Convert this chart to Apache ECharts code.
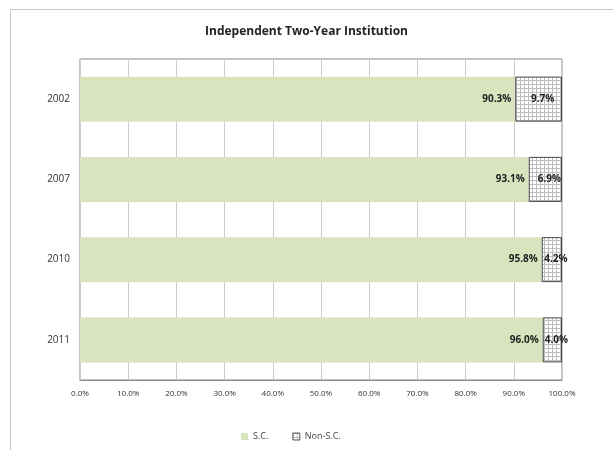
<!DOCTYPE html>
<html>
<head>
<meta charset="utf-8">
<script src="https://cdn.jsdelivr.net/npm/echarts@6/dist/echarts.min.js"></script>
<style>
  html, body { margin: 0; padding: 0; background: #fff; }
  #frame { position: absolute; left: 10px; top: 9px; width: 640px; height: 460px; border: 1px solid #c8c8c8; }
  #chart { position: absolute; left: 0; top: 0; width: 613px; height: 450px; }
</style>
</head>
<body>
<div id="frame"></div>
<div id="chart"></div>
<script>
// 年份与两组占比
const years = ["2002", "2007", "2010", "2011"];
const scValues = [90.3, 93.1, 95.8, 96.0];
const nonScValues = [9.7, 6.9, 4.2, 4.0];

const GREEN = "#d7e4bd";
const FONT = "'Open Sans', 'DejaVu Sans', sans-serif";

// 网格填充图案
const makeHatch = () => {
  const c = document.createElement("canvas");
  c.width = 4;
  c.height = 4;
  const ctx = c.getContext("2d");
  ctx.fillStyle = "#ffffff";
  ctx.fillRect(0, 0, 4, 4);
  ctx.fillStyle = "#bdbdbd";
  ctx.fillRect(0, 0, 4, 1);
  ctx.fillRect(0, 0, 1, 4);
  return c;
};
const hatch = makeHatch();

const chart = echarts.init(document.getElementById("chart"));

const option = {
  animation: false,
  textStyle: { fontFamily: FONT },
  title: {
    text: "Independent Two-Year Institution",
    left: "center",
    top: 21,
    textStyle: { fontSize: 12, fontWeight: "bold", color: "#222", fontFamily: FONT },
  },
  legend: {
    bottom: 4,
    left: 236,
    itemWidth: 7,
    itemHeight: 7,
    itemGap: 24,
    textStyle: { fontSize: 9, color: "#444" },
    data: [
      { name: "S.C.", icon: "rect", itemStyle: { color: GREEN } },
      { name: "Non-S.C.", icon: "rect", itemStyle: { color: { image: hatch, repeat: "repeat" }, borderColor: "#555", borderWidth: 1 } },
    ],
  },
  grid: {
    left: 80,
    right: 51,
    top: 59,
    bottom: 70,
    show: true,
    borderColor: "#8a8a8a",
    borderWidth: 1,
  },
  xAxis: {
    type: "value",
    min: 0,
    max: 100,
    interval: 10,
    axisLine: { show: true, lineStyle: { color: "#8a8a8a" } },
    axisTick: { show: false },
    splitLine: { show: true, lineStyle: { color: "#cccccc" } },
    axisLabel: {
      fontSize: 8,
      color: "#333",
      margin: 10,
      formatter: v => v.toFixed(1) + "%",
    },
  },
  yAxis: {
    type: "category",
    inverse: true,
    data: years,
    axisLine: { show: false },
    axisTick: { show: false },
    splitLine: { show: false },
    axisLabel: { fontSize: 10, color: "#333", margin: 10 },
  },
  series: [
    {
      name: "S.C.",
      type: "bar",
      stack: "total",
      barWidth: 45,
      data: scValues,
      itemStyle: { color: GREEN },
      label: {
        show: true,
        position: "insideRight",
        distance: 4,
        fontSize: 10,
        fontWeight: "bold",
        color: "#222",
        formatter: p => p.value.toFixed(1) + "%",
      },
    },
    {
      name: "Non-S.C.",
      type: "bar",
      stack: "total",
      barWidth: 45,
      data: nonScValues,
      itemStyle: { color: { image: hatch, repeat: "repeat" }, borderColor: "#444", borderWidth: 1 },
      label: {
        show: true,
        position: "inside",
        offset: [4, 0],
        fontSize: 10,
        fontWeight: "bold",
        color: "#222",
        formatter: p => p.value.toFixed(1) + "%",
      },
    },
  ],
};

chart.setOption(option);
</script>
</body>
</html>
